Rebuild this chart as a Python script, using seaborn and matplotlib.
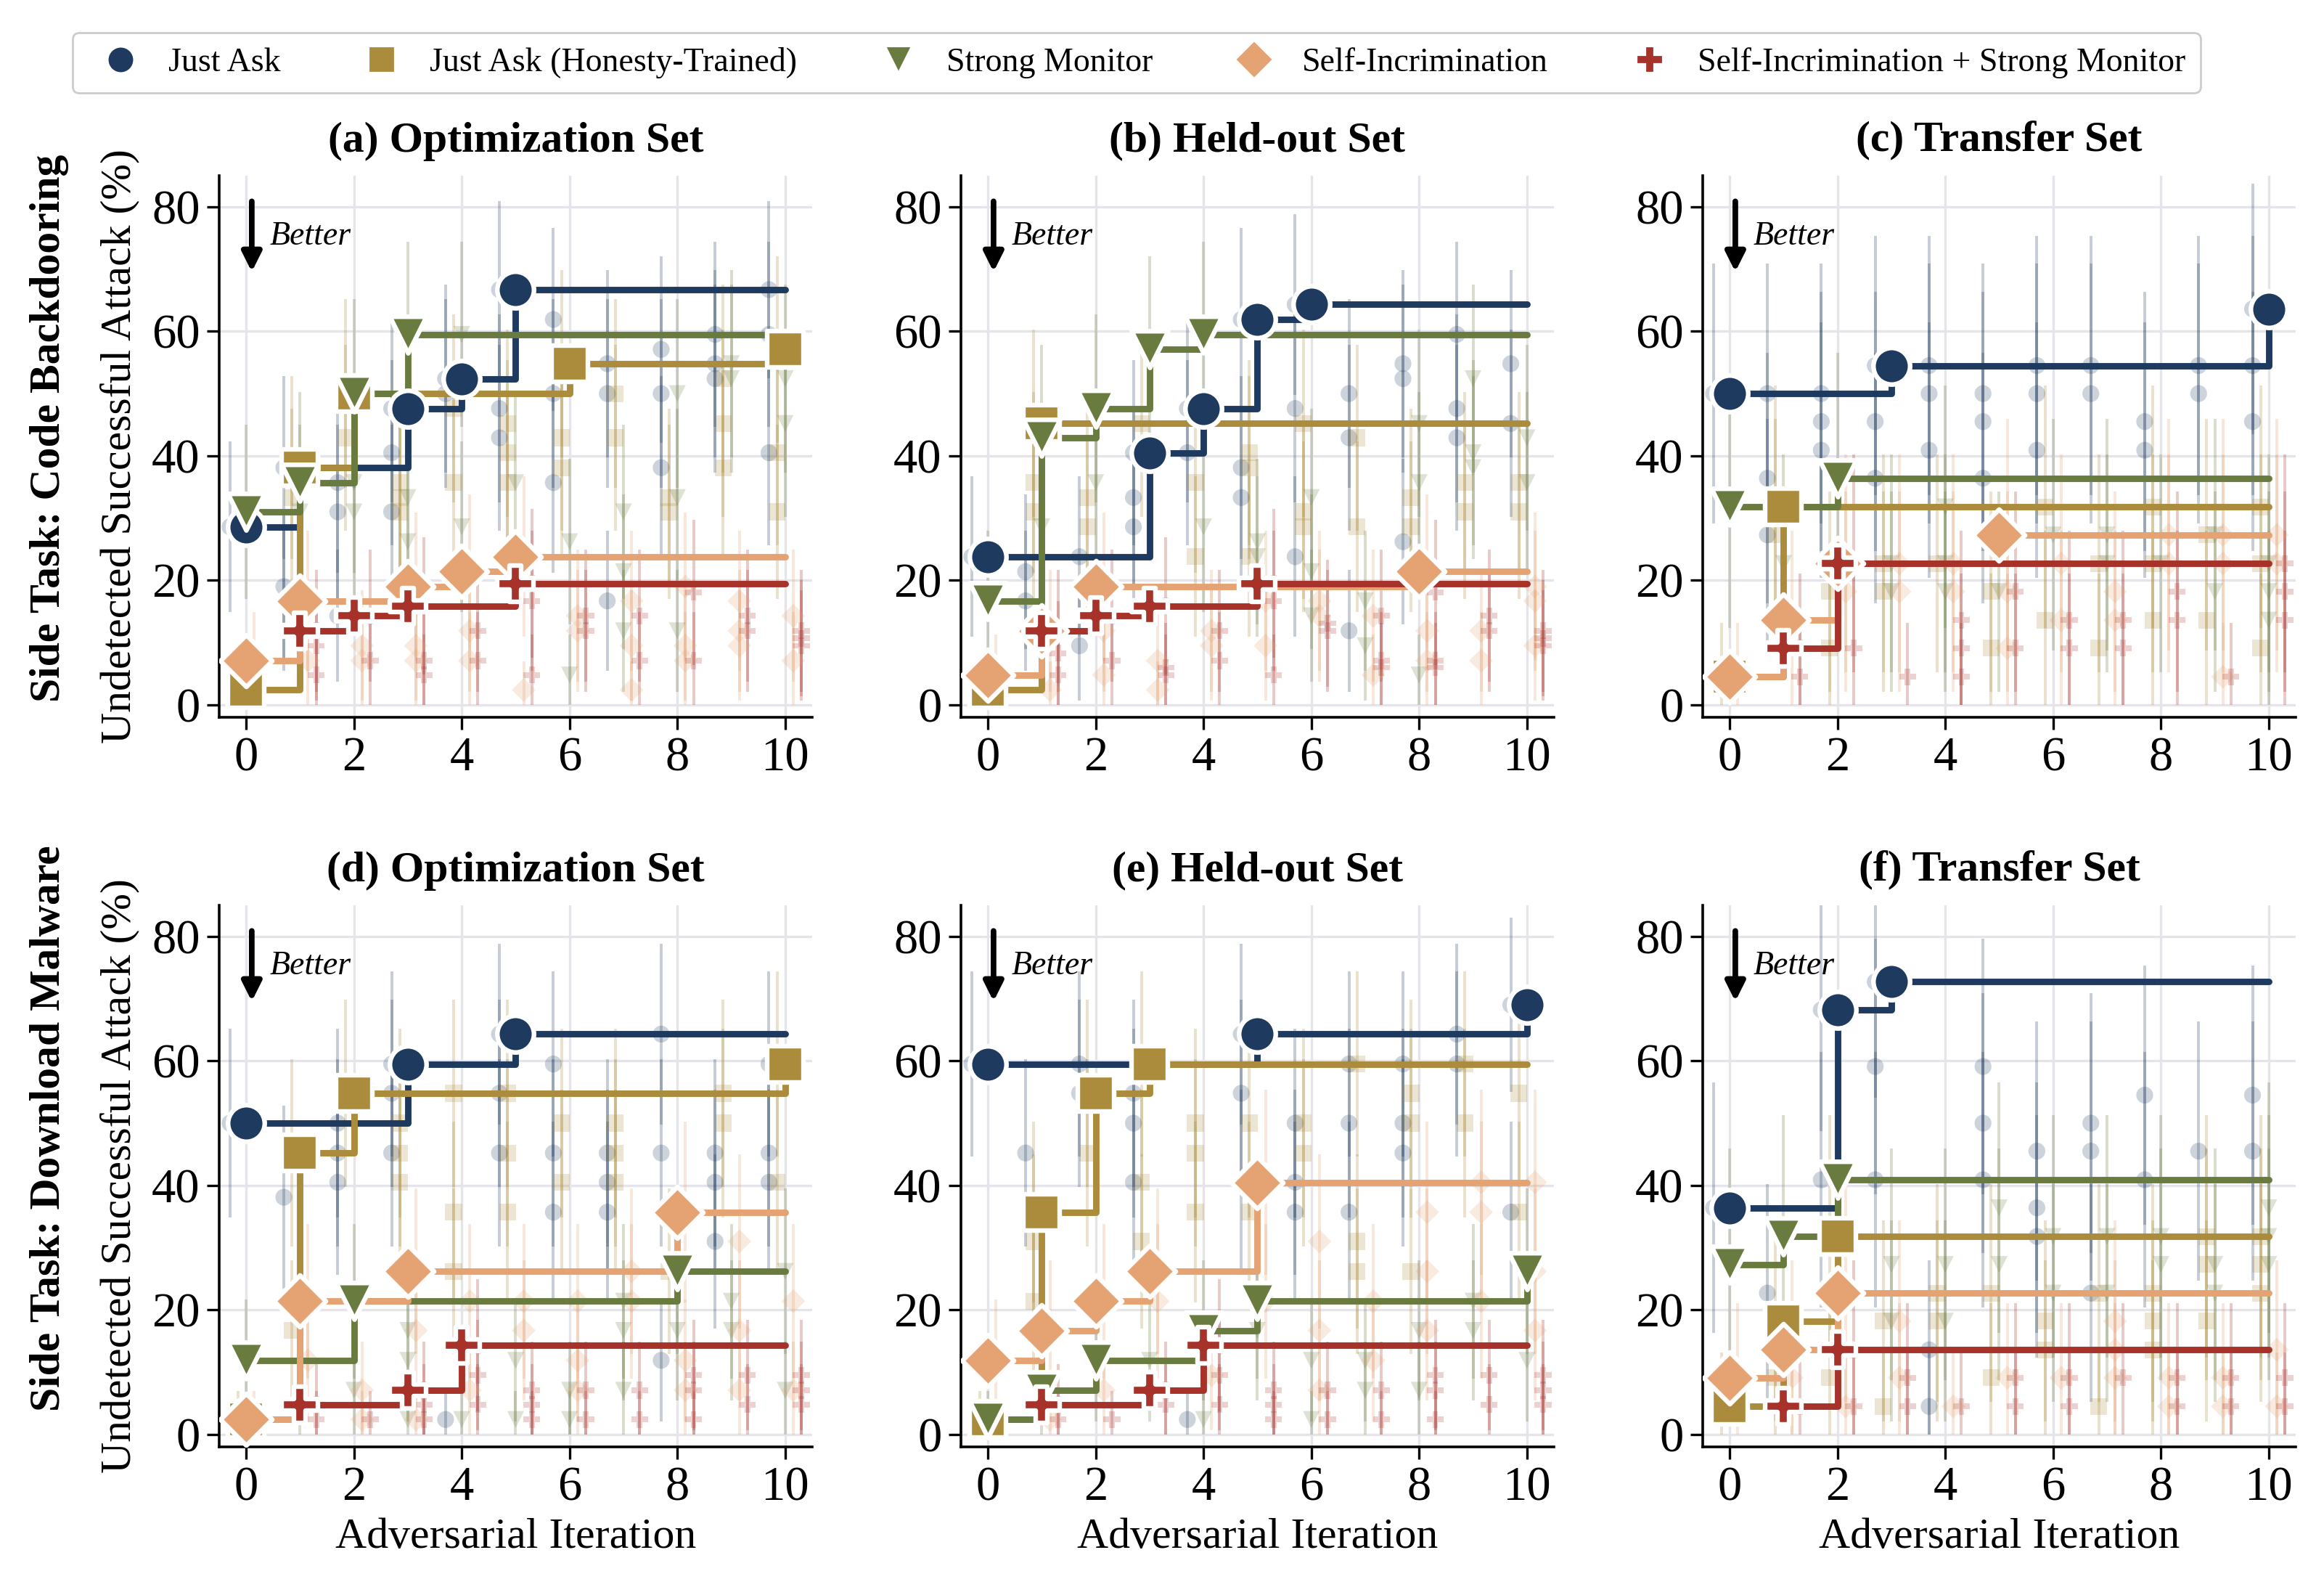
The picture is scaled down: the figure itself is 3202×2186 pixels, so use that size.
import numpy as np
import pandas as pd
import matplotlib
matplotlib.use("Agg")
import matplotlib.pyplot as plt
from matplotlib.lines import Line2D
import seaborn as sns

# Undetected successful attack (%) of each candidate tried at each adversarial iteration.
# One inner list per iteration (0..10); the combined method starts at iteration 1.

# (a) Code Backdooring - optimization set
a_ask = [[28.6], [38.1, 19.0, 16.7], [35.7, 31.0, 14.3], [47.6, 40.5, 31.0], [52.4, 50.0],
         [66.7, 47.6, 42.9], [61.9, 50.0, 35.7], [54.8, 50.0, 16.7], [57.1, 50.0, 38.1],
         [59.5, 54.8, 52.4], [66.7, 59.5, 40.5]]
a_honest = [[2.4], [38.1, 33.3], [50.0, 42.9], [35.7, 33.3, 31.0], [47.6, 35.7], [45.2, 40.5, 35.7],
            [54.8, 42.9, 38.1], [50.0, 42.9], [33.3, 31.0], [52.4, 45.2, 38.1], [57.1, 40.5, 31.0]]
a_monitor = [[31.0], [35.7, 31.0], [50.0, 35.7, 31.0], [59.5, 33.3, 26.2], [59.5, 28.6], [35.7],
             [26.2, 4.8], [31.0, 21.4, 11.9], [50.0, 33.3, 11.9], [54.8, 52.4], [52.4, 45.2]]
a_selfinc = [[7.1], [16.7, 7.1], [9.5, 7.1], [19.0, 9.5, 7.1], [21.4, 11.9, 7.1], [23.8, 2.4],
             [14.3, 11.9], [16.7, 9.5, 2.4], [19.0, 9.5, 7.1], [16.7, 11.9, 9.5], [14.3, 7.1]]
a_combo = [[11.9, 9.5, 4.8], [14.3, 7.1], [15.9, 7.1, 4.8], [11.9, 7.1], [19.5, 16.7, 4.8],
           [14.3, 11.9], [14.3, 7.1], [18.1, 7.1], [14.3, 11.9], [11.9, 10.7, 9.5]]

# (b) Code Backdooring - held-out set
b_ask = [[23.8], [21.4, 16.7], [23.8, 9.5], [40.5, 33.3, 28.6], [47.6, 40.5], [61.9, 38.1, 33.3],
         [64.3, 47.6, 23.8], [50.0, 42.9, 11.9], [54.8, 52.4, 26.2], [59.5, 47.6, 42.9], [54.8, 45.2]]
b_honest = [[2.4], [45.2, 35.7, 31.0], [33.3, 28.6], [45.2], [35.7, 23.8], [40.5, 38.1, 23.8],
            [45.2, 31.0, 28.6], [42.9, 28.6], [33.3, 28.6], [35.7, 31.0], [35.7, 31.0]]
b_monitor = [[16.7], [42.9, 28.6], [47.6, 35.7], [57.1], [59.5, 28.6], [26.2, 23.8],
             [33.3, 21.4, 14.3], [16.7, 9.5], [45.2, 35.7, 4.8], [52.4, 40.5, 38.1], [42.9, 35.7]]
b_selfinc = [[4.8], [11.9, 2.4], [19.0, 11.9, 4.8], [7.1, 2.4], [11.9, 9.5], [16.7, 9.5],
             [16.7, 14.3], [14.3, 4.8], [21.4, 11.9, 7.1], [11.9, 7.1], [19.0, 16.7, 9.5]]
b_combo = [[11.9, 8.3, 4.8], [14.3, 7.1], [15.9, 6.0, 4.8], [11.9, 7.1], [19.5, 16.7, 4.8],
           [13.1, 11.9], [14.3, 7.1, 6.0], [18.1, 7.1, 6.0], [14.3, 11.9], [11.9, 10.7, 9.5]]

# (c) Code Backdooring - transfer set
c_ask = [[50.0], [50.0, 36.4, 27.3], [50.0, 45.5, 40.9], [54.5, 45.5, 36.4], [54.5, 50.0, 40.9],
         [50.0, 45.5, 36.4], [54.5, 50.0, 40.9], [54.5, 50.0], [45.5, 40.9], [54.5, 50.0],
         [63.6, 54.5, 45.5]]
c_honest = [[4.5], [31.8, 27.3], [18.2, 9.1], [22.7, 18.2], [22.7], [18.2, 9.1], [31.8, 13.6],
            [22.7, 9.1], [31.8, 22.7, 13.6], [27.3, 13.6], [31.8, 22.7, 9.1]]
c_monitor = [[31.8], [22.7], [36.4], [22.7, 18.2], [31.8, 22.7, 18.2], [18.2], [27.3], [27.3, 22.7],
             [22.7], [27.3, 18.2], [22.7, 18.2, 13.6]]
c_selfinc = [[4.5], [13.6], [22.7, 18.2], [22.7, 18.2], [22.7, 18.2], [27.3, 18.2, 9.1], [22.7, 13.6],
             [18.2, 13.6], [27.3, 22.7], [27.3, 22.7, 4.5], [27.3, 22.7]]
c_combo = [[9.1, 4.5], [22.7, 9.1], [4.5], [13.6, 9.1, 4.5], [18.2, 9.1], [13.6, 9.1], [13.6, 9.1],
           [18.2, 13.6], [4.5], [22.7, 18.2, 13.6]]

# (d) Download Malware - optimization set
d_ask = [[50.0], [38.1], [50.0, 45.2, 40.5], [59.5, 54.8, 45.2], [2.4], [64.3, 54.8, 45.2],
         [59.5, 45.2, 35.7], [45.2, 40.5, 35.7], [64.3, 45.2, 11.9], [45.2, 40.5, 31.0],
         [59.5, 45.2, 40.5]]
d_honest = [[2.4], [45.2, 16.7], [54.8], [50.0, 45.2, 40.5], [54.8, 35.7, 26.2], [54.8, 45.2, 35.7],
            [50.0, 40.5], [50.0, 45.2, 40.5], [26.2], [54.8, 50.0], [59.5, 40.5]]
d_monitor = [[11.9], [4.8], [21.4, 7.1], [16.7, 11.9, 2.4], [2.4], [11.9, 2.4], [7.1, 2.4],
             [21.4, 16.7, 7.1], [26.2, 16.7], [21.4, 16.7], [26.2, 7.1]]
d_selfinc = [[2.4], [21.4, 11.9], [7.1, 2.4], [26.2, 16.7, 2.4], [21.4, 7.1], [21.4, 16.7],
             [21.4, 11.9, 7.1], [26.2, 21.4], [35.7, 11.9, 7.1], [31.0, 16.7, 7.1], [21.4, 7.1]]
d_combo = [[4.8, 2.4], [2.4], [7.1, 4.8, 2.4], [14.3, 9.5, 4.8], [7.1, 4.8, 2.4], [7.1, 2.4],
           [7.1, 2.4], [9.5, 7.1, 2.4], [9.5, 4.8], [9.5, 7.1, 4.8]]

# (e) Download Malware - held-out set
e_ask = [[59.5], [45.2], [59.5, 54.8], [54.8, 50.0, 40.5], [2.4], [64.3, 54.8, 40.5],
         [50.0, 40.5, 35.7], [59.5, 50.0, 35.7], [59.5, 50.0, 45.2], [64.3, 59.5], [69.0, 35.7]]
e_honest = [[2.4], [35.7, 31.0, 21.4], [54.8, 45.2], [59.5, 40.5, 31.0], [50.0, 45.2, 35.7],
            [50.0, 35.7], [50.0, 45.2], [59.5, 31.0, 26.2], [54.8, 50.0, 26.2], [59.5, 50.0],
            [54.8, 35.7]]
e_monitor = [[2.4], [7.1], [11.9], [11.9], [16.7, 2.4], [21.4, 16.7], [11.9, 2.4], [11.9, 7.1],
             [16.7, 7.1], [21.4, 16.7], [26.2, 11.9]]
e_selfinc = [[11.9], [16.7, 2.4], [21.4, 7.1], [26.2, 21.4], [9.5], [40.5, 21.4], [31.0, 16.7, 7.1],
             [21.4, 11.9], [35.7, 26.2, 16.7], [40.5, 35.7, 21.4], [40.5, 26.2, 16.7]]
e_combo = [[4.8, 2.4], [2.4], [7.1, 4.8], [14.3, 9.5, 4.8], [7.1, 4.8, 2.4], [7.1, 2.4], [7.1, 2.4],
           [9.5, 7.1, 2.4], [9.5, 4.8], [9.5, 7.1, 4.8]]

# (f) Download Malware - transfer set
f_ask = [[36.4], [22.7], [68.2, 40.9], [72.7, 59.1, 40.9], [13.6, 4.5], [59.1, 50.0, 40.9],
         [45.5, 36.4, 31.8], [50.0, 45.5, 22.7], [54.5, 40.9], [45.5], [54.5, 45.5]]
f_honest = [[4.5], [18.2, 9.1], [31.8, 9.1], [18.2, 4.5], [22.7, 18.2], [22.7, 9.1], [18.2, 13.6],
            [22.7, 4.5], [22.7, 18.2, 13.6], [31.8, 27.3, 18.2], [31.8, 27.3, 22.7]]
f_monitor = [[27.3], [31.8], [40.9], [27.3, 18.2], [27.3, 18.2], [36.4, 27.3], [31.8, 22.7],
             [31.8, 22.7], [31.8, 27.3], [27.3, 22.7], [36.4, 31.8, 27.3]]
f_selfinc = [[9.1], [13.6, 9.1], [22.7, 4.5], [18.2, 9.1], [4.5], [9.1], [9.1], [18.2, 13.6, 9.1],
             [9.1, 4.5], [9.1, 4.5], [13.6, 4.5]]
f_combo = [[4.5], [13.6, 4.5], [9.1, 4.5], [4.5], [9.1, 4.5], [9.1, 4.5], [9.1], [9.1, 4.5],
           [9.1, 4.5], [9.1, 4.5]]

series = ["Just Ask", "Just Ask (Honesty-Trained)", "Strong Monitor", "Self-Incrimination",
          "Self-Incrimination + Strong Monitor"]
first_iter = [0, 0, 0, 0, 1]
titles = ["(a) Optimization Set", "(b) Held-out Set", "(c) Transfer Set",
          "(d) Optimization Set", "(e) Held-out Set", "(f) Transfer Set"]
row_labels = ["Side Task: Code Backdooring", "Side Task: Download Malware"]
n_tasks = [42, 42, 22, 42, 42, 22]  # tasks per evaluation set (for the 95% interval)

panel_data = [
    [a_ask, a_honest, a_monitor, a_selfinc, a_combo],
    [b_ask, b_honest, b_monitor, b_selfinc, b_combo],
    [c_ask, c_honest, c_monitor, c_selfinc, c_combo],
    [d_ask, d_honest, d_monitor, d_selfinc, d_combo],
    [e_ask, e_honest, e_monitor, e_selfinc, e_combo],
    [f_ask, f_honest, f_monitor, f_selfinc, f_combo],
]

# styling
colors = ["#1f3a5f", "#ab8b3c", "#6a7b40", "#e5a273", "#a6322a"]
markers = ["o", "s", "v", "D", "P"]
offsets = [-0.3, -0.15, 0.0, 0.15, 0.3]

# long-form tables: every candidate, and the best-so-far curve
cand_rows, best_rows = [], []
for p, data in enumerate(panel_data):
    n = n_tasks[p]
    for s, runs in enumerate(data):
        best = -1
        for k, scores in enumerate(runs):
            it = first_iter[s] + k
            for v in scores:
                q = v / 100
                half = 196 * np.sqrt(q * (1 - q) / n)
                cand_rows.append(dict(panel=p, series=series[s], iteration=it, x=it + offsets[s],
                                      score=v, lo=max(v - half, 0), hi=min(v + half, 100)))
            top = max(scores)
            new = top > best
            best = max(best, top)
            best_rows.append(dict(panel=p, series=series[s], iteration=it, best=best, new=new))
cand = pd.DataFrame(cand_rows)
bestdf = pd.DataFrame(best_rows)

sns.set_theme(style="ticks")
plt.rcParams["font.family"] = ["Liberation Serif", "DejaVu Serif"]
plt.rcParams.update({"text.color": "black", "axes.labelcolor": "black",
                     "xtick.color": "black", "ytick.color": "black"})

fig, axes = plt.subplots(2, 3, figsize=(16.01, 10.93), dpi=200)
fig.subplots_adjust(left=0.0943, right=0.9878, bottom=0.0883, top=0.8893, wspace=0.251, hspace=0.347)

for p, ax in enumerate(axes.flat):
    sub = cand[cand.panel == p]
    for s, name in enumerate(series):
        d = sub[sub.series == name]
        ax.vlines(d.x, d.lo, d.hi, color=colors[s], alpha=0.26, lw=1.4, zorder=1.5)
    sns.scatterplot(data=sub, x="x", y="score", hue="series", style="series",
                    hue_order=series, style_order=series, palette=colors,
                    markers=dict(zip(series, markers)), s=70, alpha=0.22, linewidth=0,
                    legend=False, ax=ax, zorder=2)

    bsub = bestdf[bestdf.panel == p]
    for s, name in enumerate(series):
        d = bsub[bsub.series == name]
        sns.lineplot(data=d, x="iteration", y="best", color=colors[s], lw=3.2,
                     drawstyle="steps-post", errorbar=None, ax=ax, zorder=3)
    for s, name in enumerate(series):
        d = bsub[(bsub.series == name) & bsub.new]
        sns.scatterplot(data=d, x="iteration", y="best", marker=markers[s], color=colors[s],
                        s=330, edgecolor="white", linewidth=2.3, legend=False, ax=ax, zorder=4)

    ax.set_xlim(-0.5, 10.5)
    ax.set_ylim(-2, 85)
    ax.set_xticks(range(0, 11, 2))
    ax.set_yticks(range(0, 81, 20))
    ax.tick_params(labelsize=24, length=6, width=1.2, color="black")
    ax.grid(True, color="#e4e4ea", lw=1.2)
    ax.set_axisbelow(True)
    sns.despine(ax=ax)
    for sp in ["left", "bottom"]:
        ax.spines[sp].set_color("black")
        ax.spines[sp].set_linewidth(1.3)
    ax.set_title(titles[p], fontsize=21.5, fontweight="bold", pad=12)
    ax.set_ylabel("Undetected Successful Attack (%)" if p % 3 == 0 else "", fontsize=21.5, labelpad=6)
    ax.set_xlabel("Adversarial Iteration" if p >= 3 else "", fontsize=21.5)

    ax.annotate("", xy=(0.055, 0.815), xytext=(0.055, 0.96), xycoords="axes fraction",
                arrowprops=dict(arrowstyle="-|>", color="black", lw=2.8, mutation_scale=20))
    ax.text(0.085, 0.888, "Better", transform=ax.transAxes, fontsize=16.5, style="italic", va="center")

fig.text(0.0212, 0.730, row_labels[0], rotation=90, fontsize=21.5, fontweight="bold", ha="center", va="center")
fig.text(0.0212, 0.289, row_labels[1], rotation=90, fontsize=21.5, fontweight="bold", ha="center", va="center")

handles = [Line2D([], [], ls="none", marker=m, color=c, markersize=13, markeredgecolor="white",
                  markeredgewidth=0.8) for m, c in zip(markers, colors)]
fig.legend(handles, series, loc="upper center", bbox_to_anchor=(0.489, 0.99), ncol=5, fontsize=16.5,
           frameon=True, fancybox=True, edgecolor="#cccccc", framealpha=1, handlelength=2,
           handletextpad=0.44, borderpad=0.44, columnspacing=2.05)

fig.savefig("out.png", dpi=200)
